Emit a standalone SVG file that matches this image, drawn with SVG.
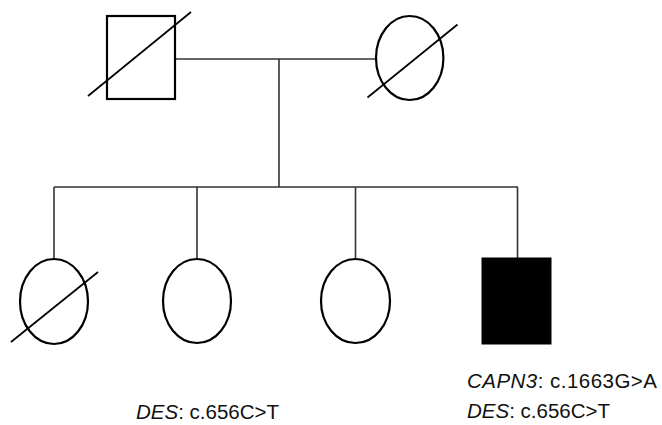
<svg xmlns="http://www.w3.org/2000/svg" width="662" height="425" viewBox="0 0 662 425">
<style>
.sym{fill:#fff;stroke:#000;stroke-width:2.2}
.aff{fill:#000;stroke:#000;stroke-width:1}
.sl{stroke:#000;stroke-width:1.7;fill:none}
.ln{stroke:#333;stroke-width:1.6;fill:none}
text{font-family:"Liberation Sans",Arial,sans-serif;font-size:20.5px;fill:#111}
.it{font-style:italic}
</style>
<rect width="662" height="425" fill="#fff"/>
<g id="connectors">
<line class="ln" x1="175" y1="59" x2="376" y2="59"/>
<line class="ln" x1="279" y1="59" x2="279" y2="187"/>
<line class="ln" x1="54" y1="187" x2="518" y2="187"/>
<line class="ln" x1="54" y1="187" x2="54" y2="259"/>
<line class="ln" x1="197" y1="187" x2="197" y2="259"/>
<line class="ln" x1="355.5" y1="187" x2="355.5" y2="259"/>
<line class="ln" x1="517.5" y1="187" x2="517.5" y2="258"/>
</g>
<g id="father">
<rect class="sym" x="107" y="16" width="68" height="83"/>
<line class="sl" x1="88" y1="96" x2="191" y2="12"/>
</g>
<g id="mother">
<ellipse class="sym" cx="409.7" cy="58" rx="33.7" ry="42"/>
<line class="sl" x1="367.5" y1="97.5" x2="457.5" y2="24.5"/>
</g>
<g id="child1">
<ellipse class="sym" cx="54" cy="301.5" rx="34" ry="42.5"/>
<line class="sl" x1="11" y1="342" x2="98" y2="272"/>
</g>
<g id="child2">
<ellipse class="sym" cx="197" cy="301" rx="34" ry="42"/>
<text x="136" y="419"><tspan class="it">DES</tspan>: c.656C&gt;T</text>
</g>
<g id="child3">
<ellipse class="sym" cx="355.5" cy="301" rx="34.5" ry="42"/>
</g>
<g id="child4">
<rect class="aff" x="482" y="258" width="69" height="86"/>
<text x="467" y="388" textLength="190" lengthAdjust="spacing"><tspan class="it">CAPN3</tspan>: c.1663G&gt;A</text>
<text x="467" y="418"><tspan class="it">DES</tspan>: c.656C&gt;T</text>
</g>
</svg>
